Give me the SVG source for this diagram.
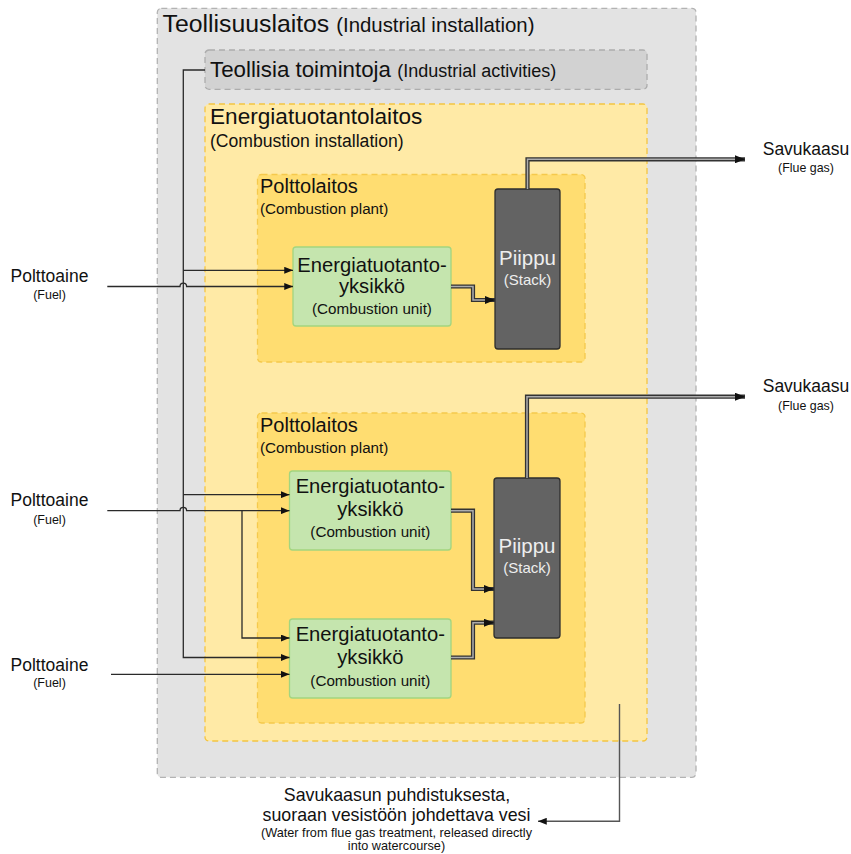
<svg xmlns="http://www.w3.org/2000/svg" width="851" height="854" viewBox="0 0 851 854">
<defs>
<style>
text{font-family:"Liberation Sans",Arial,sans-serif;fill:#111}
.c{text-anchor:middle}
.zone{stroke-dasharray:6 4;stroke-width:1.3}
.unit{fill:#c5e5ae;stroke:#a3d57f;stroke-width:1.3}
.stack{fill:#636363;stroke:#2e2e2e;stroke-width:1.3}
.ln{fill:none;stroke:#2a2a2a;stroke-width:1.3}
.dbl{fill:none;stroke:#333;stroke-width:4.2}
.dbli{fill:none;stroke:#fff;stroke-opacity:.6;stroke-width:1.5}
.wt{fill:#eeeeee}
</style>
<marker id="ah" viewBox="0 0 10 8" refX="10" refY="4" markerWidth="9" markerHeight="7" markerUnits="userSpaceOnUse" orient="auto">
<path d="M0,0 L10,4 L0,8 z" fill="#111"/>
</marker>
<marker id="ahd" viewBox="0 0 10 8" refX="10" refY="4" markerWidth="11" markerHeight="8" markerUnits="userSpaceOnUse" orient="auto">
<path d="M0,0 L10,4 L0,8 z" fill="#111"/>
</marker>
</defs>

<g id="industrial-installation">
<rect class="zone" x="157.3" y="8.3" width="538.7" height="769" rx="4" fill="#e3e3e3" stroke="#b3b3b3"/>
<text x="162.5" y="31.5" font-size="24.8">Teollisuuslaitos <tspan font-size="20.4">(Industrial installation)</tspan></text>
</g>

<g id="industrial-activities">
<rect class="zone" x="205" y="50" width="442" height="39.3" rx="4" fill="#d2d2d2" stroke="#adadad"/>
<text x="210" y="77.3" font-size="22.3">Teollisia toimintoja <tspan font-size="18">(Industrial activities)</tspan></text>
</g>

<g id="combustion-installation">
<rect class="zone" x="205" y="104" width="442" height="637" rx="4" fill="#ffeaa6" stroke="#f4c542"/>
<text x="210" y="124.3" font-size="22.6">Energiatuotantolaitos</text>
<text x="210" y="146.7" font-size="17.6">(Combustion installation)</text>
</g>

<g id="combustion-plant-1">
<rect class="zone" x="257.5" y="174.5" width="327.5" height="187.5" rx="4" fill="#ffdd71" stroke="#f5c94c"/>
<text x="260" y="193.3" font-size="20">Polttolaitos</text>
<text x="260" y="214" font-size="15.2">(Combustion plant)</text>
</g>

<g id="combustion-plant-2">
<rect class="zone" x="257.5" y="413" width="327.5" height="310" rx="4" fill="#ffdd71" stroke="#f5c94c"/>
<text x="260" y="432.3" font-size="20">Polttolaitos</text>
<text x="260" y="452.7" font-size="15.2">(Combustion plant)</text>
</g>

<g id="unit-1">
<rect class="unit" x="293" y="247" width="158" height="79" rx="3"/>
<text class="c" x="372" y="271.7" font-size="20.2">Energiatuotanto-</text>
<text class="c" x="372" y="292.7" font-size="20.2">yksikkö</text>
<text class="c" x="372" y="314" font-size="15.2">(Combustion unit)</text>
</g>

<g id="unit-2a">
<rect class="unit" x="289.5" y="471" width="161.5" height="79" rx="3"/>
<text class="c" x="370.3" y="493.3" font-size="20.2">Energiatuotanto-</text>
<text class="c" x="370.3" y="516" font-size="20.2">yksikkö</text>
<text class="c" x="370.3" y="537" font-size="15.2">(Combustion unit)</text>
</g>

<g id="unit-2b">
<rect class="unit" x="289.5" y="619" width="161.5" height="79" rx="3"/>
<text class="c" x="370.3" y="641" font-size="20.2">Energiatuotanto-</text>
<text class="c" x="370.3" y="664" font-size="20.2">yksikkö</text>
<text class="c" x="370.3" y="686" font-size="15.2">(Combustion unit)</text>
</g>

<g id="stack-1">
<rect class="stack" x="495" y="189" width="65" height="160" rx="3"/>
<text class="c wt" x="527.5" y="265" font-size="20.5">Piippu</text>
<text class="c wt" x="527.5" y="285" font-size="15">(Stack)</text>
</g>

<g id="stack-2">
<rect class="stack" x="494" y="478" width="66" height="160" rx="3"/>
<text class="c wt" x="527" y="552.7" font-size="20.5">Piippu</text>
<text class="c wt" x="527" y="573.3" font-size="15">(Stack)</text>
</g>

<g id="fuel-1">
<text class="c" x="49.5" y="282.3" font-size="17.5">Polttoaine</text>
<text class="c" x="49.5" y="299.3" font-size="12.5">(Fuel)</text>
</g>
<g id="fuel-2">
<text class="c" x="49.5" y="506" font-size="17.5">Polttoaine</text>
<text class="c" x="49.5" y="523.5" font-size="12.5">(Fuel)</text>
</g>
<g id="fuel-3">
<text class="c" x="49.5" y="670.7" font-size="17.5">Polttoaine</text>
<text class="c" x="49.5" y="687.3" font-size="12.5">(Fuel)</text>
</g>

<g id="flue-gas-1">
<text class="c" x="806" y="155" font-size="17.5">Savukaasu</text>
<text class="c" x="806" y="172.3" font-size="12.4">(Flue gas)</text>
</g>
<g id="flue-gas-2">
<text class="c" x="806" y="392.3" font-size="17.5">Savukaasu</text>
<text class="c" x="806" y="410" font-size="12.4">(Flue gas)</text>
</g>

<g id="water-out">
<text class="c" x="397" y="800.5" font-size="17.8">Savukaasun puhdistuksesta,</text>
<text class="c" x="396.5" y="820.7" font-size="17.8">suoraan vesistöön johdettava vesi</text>
<text class="c" x="396.5" y="836.7" font-size="12.7">(Water from flue gas treatment, released directly</text>
<text class="c" x="396.5" y="849.5" font-size="12.7">into watercourse)</text>
</g>

<g id="connectors">
<path class="ln" d="M205,70 H183.3 V657.5 H289.5" marker-end="url(#ah)"/>
<path class="ln" d="M183.3,270.3 H293" marker-end="url(#ah)"/>
<path class="ln" d="M107.3,286.5 H180 a3.3,3.3 0 0 1 6.6,0 H293" marker-end="url(#ah)"/>
<path class="ln" d="M183.3,494.7 H289.5" marker-end="url(#ah)"/>
<path class="ln" d="M107.3,510.7 H180 a3.3,3.3 0 0 1 6.6,0 H289.5" marker-end="url(#ah)"/>
<path class="ln" d="M242,510.7 V638 H289.5" marker-end="url(#ah)"/>
<path class="ln" d="M111,674.3 H289.5" marker-end="url(#ah)"/>
<path class="dbl" d="M451,286.5 H473 V300 H495" marker-end="url(#ahd)"/>
<path class="dbli" d="M451,286.5 H473 V300 H485"/>
<path class="dbl" d="M451,510.7 H473 V589 H494" marker-end="url(#ahd)"/>
<path class="dbli" d="M451,510.7 H473 V589 H484"/>
<path class="dbl" d="M451,657.5 H473 V622.7 H494" marker-end="url(#ahd)"/>
<path class="dbli" d="M451,657.5 H473 V622.7 H484"/>
<path class="dbl" d="M527.5,189 V159.3 H745" marker-end="url(#ahd)"/>
<path class="dbli" d="M527.5,189 V159.3 H735"/>
<path class="dbl" d="M527,478 V396.7 H745" marker-end="url(#ahd)"/>
<path class="dbli" d="M527,478 V396.7 H735"/>
<path fill="none" stroke="#555" stroke-width="1.4" d="M619.5,704 V821.3 H538" marker-end="url(#ah)"/>
</g>
</svg>
